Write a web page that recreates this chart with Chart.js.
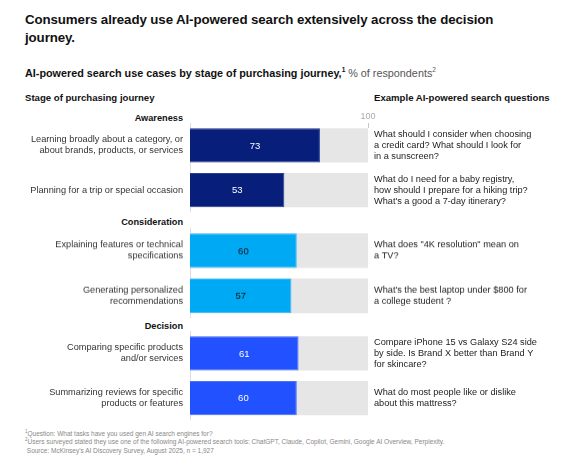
<!DOCTYPE html>
<html>
<head>
<meta charset="utf-8">
<script src="https://cdn.jsdelivr.net/npm/chart.js@4.4.1/dist/chart.umd.min.js"></script>
<style>
  html, body { margin:0; padding:0; background:#fff; }
  #root { position:relative; width:582px; height:466px; overflow:hidden; font-family:"Liberation Sans", Arial, sans-serif; color:#111; }
  .abs { position:absolute; white-space:nowrap; }
  .title { left:25px; top:11px; font-size:13.3px; letter-spacing:-0.1px; font-weight:bold; line-height:18px; color:#111; }
  .subtitle { left:25px; top:66px; font-size:10.8px; line-height:14px; font-weight:bold; color:#111; }
  .subtitle span.reg { font-weight:normal; color:#555; }
  .subtitle sup { font-size:6.5px; line-height:0; }
  .colhead { top:92px; font-size:9.6px; line-height:12px; font-weight:bold; color:#111; }
  .stage { left:0; width:183px; text-align:right; font-size:9.2px; line-height:12px; font-weight:bold; color:#111; }
  .foot { left:25px; top:429.5px; font-size:6.5px; line-height:8.7px; color:#888; }
  .foot sup { font-size:4.5px; line-height:0; }
  .box { position:absolute; left:0; width:582px; }
</style>
</head>
<body>
<div id="root">
  <div class="abs title">Consumers already use AI-powered search extensively across the decision<br>journey.</div>
  <div class="abs subtitle">AI-powered search use cases by stage of purchasing journey,<sup>1</sup> <span class="reg">% of respondents<sup>2</sup></span></div>
  <div class="abs colhead" style="left:25px">Stage of purchasing journey</div>
  <div class="abs colhead" style="left:374px">Example AI-powered search questions</div>
  <div id="stages"></div>
  <div class="abs foot"><sup>1</sup>Question: What tasks have you used gen AI search engines for?<br><sup>2</sup>Users surveyed stated they use one of the following AI-powered search tools: ChatGPT, Claude, Copilot, Gemini, Google AI Overview, Perplexity.<br>&nbsp;Source: McKinsey's AI Discovery Survey, August 2025, n = 1,927</div>
  <div class="box" style="top:104.5px;height:107.5px"><canvas id="c1"></canvas></div>
  <div class="box" style="top:228px;height:89.5px"><canvas id="c2"></canvas></div>
  <div class="box" style="top:330.5px;height:89.5px"><canvas id="c3"></canvas></div>
</div>
<script>
// ---- data ----
const stages = ['Awareness', 'Consideration', 'Decision'];

const awarenessCases = [['Learning broadly about a category, or', 'about brands, products, or services'], ['Planning for a trip or special occasion']];
const awarenessValues = [73, 53];
const awarenessQuestions = [
  ['What should I consider when choosing', 'a credit card? What should I look for', 'in a sunscreen?'],
  ['What do I need for a baby registry,', 'how should I prepare for a hiking trip?', "What's a good a 7-day itinerary?"]
];

const considerationCases = [['Explaining features or technical', 'specifications'], ['Generating personalized', 'recommendations']];
const considerationValues = [60, 57];
const considerationQuestions = [
  ['What does "4K resolution" mean on', 'a TV?'],
  ["What's the best laptop under $800 for", 'a college student ?']
];

const decisionCases = [['Comparing specific products', 'and/or services'], ['Summarizing reviews for specific', 'products or features']];
const decisionValues = [61, 60];
const decisionQuestions = [
  ['Compare iPhone 15 vs Galaxy S24 side', 'by side. Is Brand X better than Brand Y', 'for skincare?'],
  ['What do most people like or dislike', 'about this mattress?']
];

const scaleMax = 100;
const xTickLabels = ['100'];

// ---- styles ----
const stageColors = ['#071f7a', '#00a9f4', '#2251ff'];
const stageBorders = ['#2a3f96', '#3dbcf6', '#4a72ff'];
const valueTextColors = ['#ffffff', '#111111', '#ffffff'];
const trackColor = '#e6e6e6';
const FONT = '"Liberation Sans", Arial, sans-serif';

// stage headers
const stageCenters = [118, 222, 326];
const stagesDiv = document.getElementById('stages');
stages.forEach((s, i) => {
  const d = document.createElement('div');
  d.className = 'abs stage';
  d.style.top = (stageCenters[i] - 6) + 'px';
  d.textContent = s;
  stagesDiv.appendChild(d);
});

const valueLabelPlugin = {
  id: 'valueLabels',
  afterDatasetsDraw(chart, args, opts) {
    const ctx = chart.ctx;
    const meta = chart.getDatasetMeta(0);
    ctx.save();
    ctx.font = '9.5px ' + FONT;
    ctx.fillStyle = opts.color;
    ctx.textAlign = 'center';
    ctx.textBaseline = 'middle';
    meta.data.forEach((el, i) => {
      const v = chart.data.datasets[0].data[i];
      ctx.fillText(String(v), (el.base + el.x) / 2, el.y + 0.5);
    });
    ctx.restore();
  }
};

const questionPlugin = {
  id: 'questions',
  afterDraw(chart, args, opts) {
    const ctx = chart.ctx;
    const meta = chart.getDatasetMeta(0);
    const x = chart.chartArea.right + 6;
    const lh = 11;
    ctx.save();
    ctx.font = '9.2px ' + FONT;
    ctx.fillStyle = '#222';
    ctx.textAlign = 'left';
    ctx.textBaseline = 'middle';
    meta.data.forEach((el, i) => {
      const lines = opts.lines[i];
      const y0 = el.y - (lines.length - 1) * lh / 2;
      lines.forEach((t, j) => ctx.fillText(t, x, y0 + j * lh));
    });
    ctx.restore();
  }
};

function noPad(s) { s.paddingTop = 0; s.paddingBottom = 0; s.paddingLeft = 0; s.paddingRight = 0; }

function makeChart(id, cases, values, questions, idx, showTop) {
  return new Chart(document.getElementById(id), {
    type: 'bar',
    data: {
      labels: cases,
      datasets: [
        { data: values, backgroundColor: stageColors[idx], borderColor: stageBorders[idx], borderWidth: 1, order: 1 },
        { data: values.map(() => scaleMax), backgroundColor: trackColor, borderWidth: 0, order: 2 }
      ]
    },
    options: {
      indexAxis: 'y',
      responsive: true,
      maintainAspectRatio: false,
      animation: false,
      events: [],
      layout: { autoPadding: false, padding: { left: 0, right: 214, top: 0, bottom: 0 } },
      datasets: { bar: { grouped: false, categoryPercentage: 1, barPercentage: 0.76 } },
      plugins: {
        legend: { display: false },
        tooltip: { enabled: false },
        valueLabels: { color: valueTextColors[idx] },
        questions: { lines: questions }
      },
      scales: {
        x: {
          display: showTop,
          position: 'top',
          min: 0, max: scaleMax,
          afterBuildTicks: (s) => { s.ticks = xTickLabels.map(t => ({ value: Number(t) })); },
          afterFit: (s) => { s.height = showTop ? 18 : 0; noPad(s); },
          ticks: { color: '#aaa', font: { size: 9, family: FONT }, padding: 6, maxRotation: 0 },
          grid: { drawOnChartArea: false, tickLength: -5, color: '#c8c8c8' },
          border: { display: false }
        },
        y: {
          afterFit: (s) => { s.width = 190; noPad(s); },
          ticks: { color: '#333', font: { size: 9.2, family: FONT, lineHeight: 1.2 }, padding: 7 },
          grid: { display: false, drawTicks: false },
          border: { display: true, color: '#dcdcdc', width: 1 }
        }
      }
    },
    plugins: [valueLabelPlugin, questionPlugin]
  });
}

makeChart('c1', awarenessCases, awarenessValues, awarenessQuestions, 0, true);
makeChart('c2', considerationCases, considerationValues, considerationQuestions, 1, false);
makeChart('c3', decisionCases, decisionValues, decisionQuestions, 2, false);
</script>
</body>
</html>
